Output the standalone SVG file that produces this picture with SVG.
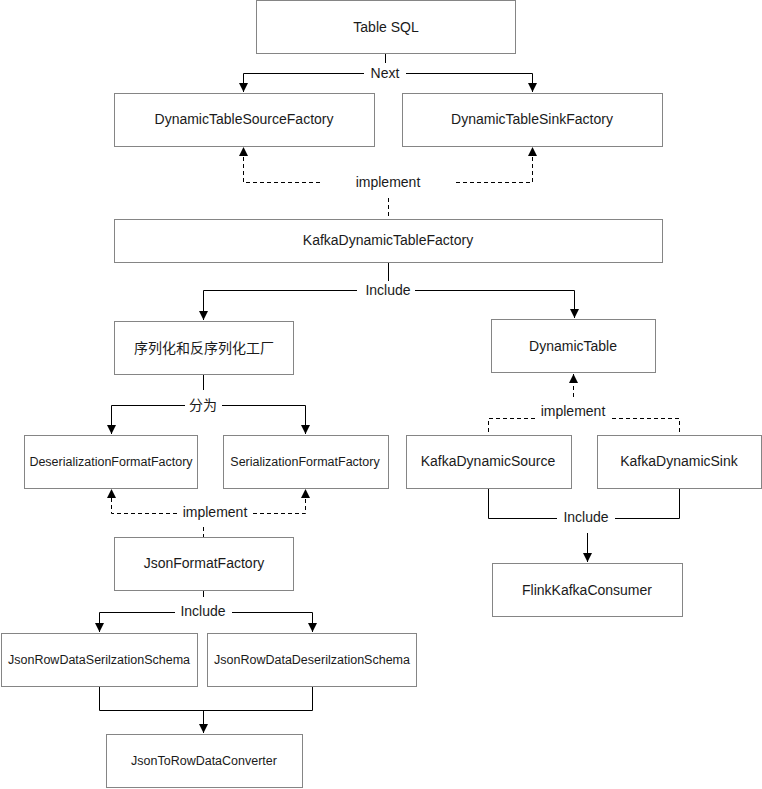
<svg xmlns="http://www.w3.org/2000/svg" width="762" height="789" viewBox="0 0 762 789">
<style>
.box{fill:#ffffff;stroke:#858585;stroke-width:1}
.t{font-family:"Liberation Sans","Noto Sans CJK SC",sans-serif;font-size:14px;fill:#1a1a1a;text-anchor:middle;dominant-baseline:central}
.s{font-size:12.5px}
.ln{fill:none;stroke:#000;stroke-width:1}
.d{stroke-dasharray:4 3}
</style>
<defs>
<marker id="ah" markerUnits="userSpaceOnUse" markerWidth="10" markerHeight="10" refX="9" refY="4.5" orient="auto">
<path d="M0,0 L9,4.5 L0,9 Z" fill="#000"/>
</marker>
</defs>
<rect width="762" height="789" fill="#ffffff"/>
<g id="connectors">
<!-- Next -->
<path class="ln" d="M385.5 54 V63"/>
<path class="ln" d="M364 73.5 H243.5 V92" marker-end="url(#ah)"/>
<path class="ln" d="M406 73.5 H532.5 V92" marker-end="url(#ah)"/>
<text class="t" x="385" y="73">Next</text>
<!-- implement top -->
<path class="ln d" d="M320 182.5 H243.5 V147" marker-end="url(#ah)"/>
<path class="ln d" d="M456 182.5 H532.5 V147" marker-end="url(#ah)"/>
<path class="ln d" d="M388.5 198 V219"/>
<text class="t" x="388" y="182">implement</text>
<!-- Include top -->
<path class="ln" d="M388.5 262 V281"/>
<path class="ln" d="M357 290.5 H203.5 V320" marker-end="url(#ah)"/>
<path class="ln" d="M415 290.5 H574.5 V318" marker-end="url(#ah)"/>
<text class="t" x="388" y="290">Include</text>
<!-- 分为 -->
<path class="ln" d="M203.5 375 V390"/>
<path class="ln" d="M185 405.5 H111.5 V434" marker-end="url(#ah)"/>
<path class="ln" d="M222 405.5 H305.5 V434" marker-end="url(#ah)"/>
<text class="t" x="203" y="405">分为</text>
<!-- implement left -->
<path class="ln d" d="M177 513.5 H111.5 V489" marker-end="url(#ah)"/>
<path class="ln d" d="M253 513.5 H305.5 V489" marker-end="url(#ah)"/>
<path class="ln d" d="M203.5 527 V537"/>
<text class="t" x="215" y="512">implement</text>
<!-- implement right -->
<path class="ln d" d="M573.5 397 V374" marker-end="url(#ah)"/>
<path class="ln d" d="M535 418.5 H488.5 V435"/>
<path class="ln d" d="M612 418.5 H679.5 V435"/>
<text class="t" x="573" y="411">implement</text>
<!-- Include right -->
<path class="ln" d="M488.5 488 V518.5 H557"/>
<path class="ln" d="M679.5 488 V518.5 H615"/>
<path class="ln" d="M587.5 533 V562" marker-end="url(#ah)"/>
<text class="t" x="586" y="517">Include</text>
<!-- Include bottom -->
<path class="ln" d="M203.5 590 V597"/>
<path class="ln" d="M175 612.5 H99.5 V632" marker-end="url(#ah)"/>
<path class="ln" d="M232 612.5 H312.5 V632" marker-end="url(#ah)"/>
<text class="t" x="203" y="611">Include</text>
<!-- merge -->
<path class="ln" d="M99.5 687 V710.5 H312.5 V687"/>
<path class="ln" d="M203.5 710.5 V733" marker-end="url(#ah)"/>
</g>
<g id="n-tablesql"><rect class="box" x="256.5" y="0.5" width="259" height="53"/><text class="t" x="386" y="27">Table SQL</text></g>
<g id="n-dtsource"><rect class="box" x="114.5" y="93.5" width="260" height="53"/><text class="t" x="244" y="119">DynamicTableSourceFactory</text></g>
<g id="n-dtsink"><rect class="box" x="402.5" y="93.5" width="260" height="53"/><text class="t" x="532" y="119">DynamicTableSinkFactory</text></g>
<g id="n-kafkafactory"><rect class="box" x="114.5" y="219.5" width="548" height="43"/><text class="t" x="388" y="240">KafkaDynamicTableFactory</text></g>
<g id="n-serde"><rect class="box" x="114.5" y="321.5" width="179" height="53"/><text class="t" x="204" y="348">序列化和反序列化工厂</text></g>
<g id="n-dynamictable"><rect class="box" x="491.5" y="319.5" width="164" height="53"/><text class="t" x="573" y="346">DynamicTable</text></g>
<g id="n-deser"><rect class="box" x="24.5" y="435.5" width="173" height="53"/><text class="t s" x="111" y="462">DeserializationFormatFactory</text></g>
<g id="n-ser"><rect class="box" x="223.5" y="435.5" width="165" height="53"/><text class="t s" x="305" y="462">SerializationFormatFactory</text></g>
<g id="n-kdsource"><rect class="box" x="406.5" y="435.5" width="165" height="53"/><text class="t" x="488" y="461">KafkaDynamicSource</text></g>
<g id="n-kdsink"><rect class="box" x="597.5" y="435.5" width="164" height="53"/><text class="t" x="679" y="461">KafkaDynamicSink</text></g>
<g id="n-jsonformat"><rect class="box" x="114.5" y="537.5" width="179" height="53"/><text class="t" x="204" y="563">JsonFormatFactory</text></g>
<g id="n-flinkconsumer"><rect class="box" x="492.5" y="563.5" width="190" height="53"/><text class="t" x="587" y="590">FlinkKafkaConsumer</text></g>
<g id="n-jsonser"><rect class="box" x="1.5" y="633.5" width="196" height="53"/><text class="t s" x="99" y="660">JsonRowDataSerilzationSchema</text></g>
<g id="n-jsondeser"><rect class="box" x="207.5" y="633.5" width="209" height="53"/><text class="t s" x="312" y="660">JsonRowDataDeserilzationSchema</text></g>
<g id="n-converter"><rect class="box" x="106.5" y="734.5" width="196" height="53"/><text class="t s" x="204" y="761">JsonToRowDataConverter</text></g>
</svg>
